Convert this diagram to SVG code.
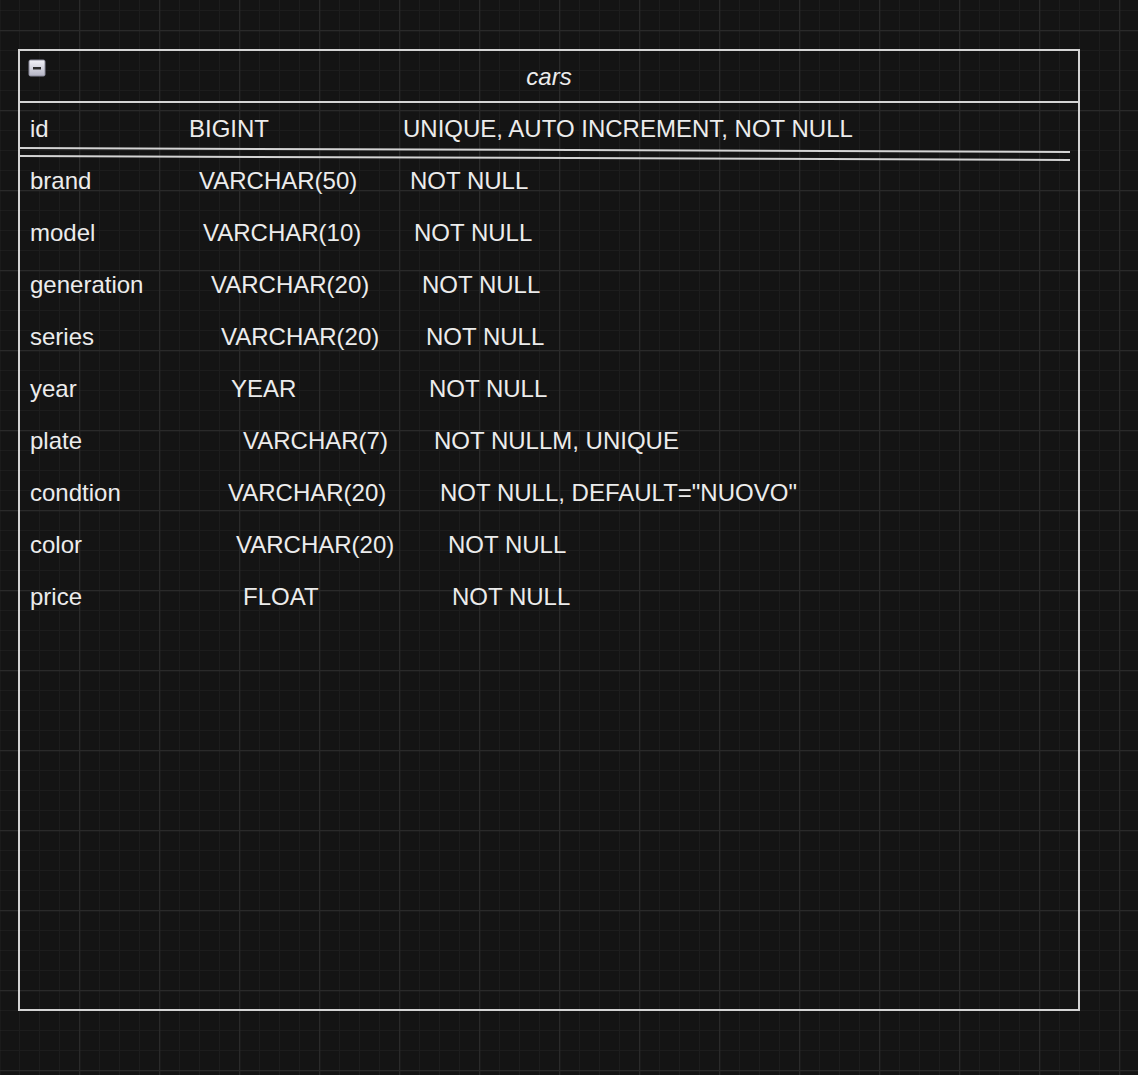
<svg xmlns="http://www.w3.org/2000/svg" width="1138" height="1075" viewBox="0 0 1138 1075">
  <defs>
    <pattern id="minor" x="-1" y="30" width="20" height="20" patternUnits="userSpaceOnUse">
      <path d="M0 0.5H20M0.5 0V20" fill="none" stroke="#1d1d1d" stroke-width="1"/>
    </pattern>
    <pattern id="major" x="-1" y="30" width="80" height="80" patternUnits="userSpaceOnUse">
      <path d="M0 0.5H80M0.5 0V80" fill="none" stroke="#2a2a2a" stroke-width="1.5"/>
    </pattern>
    <linearGradient id="btn" x1="0" y1="0" x2="0" y2="1">
      <stop offset="0" stop-color="#f2f2f8"/>
      <stop offset="1" stop-color="#b4b4c4"/>
    </linearGradient>
    <style>
      .t { font-family: "Liberation Sans", Arial, Helvetica, sans-serif; font-size: 24px; fill: #ececec; }
      .title { font-style: italic; text-anchor: middle; }
      .ln { stroke: #d4d4d4; stroke-width: 2; fill: none; }
    </style>
  </defs>
  <rect width="1138" height="1075" fill="#141414"/>
  <rect width="1138" height="1075" fill="url(#minor)"/>
  <rect width="1138" height="1075" fill="url(#major)"/>

  <g id="cars">
    <rect class="ln" x="19" y="50" width="1060" height="960"/>
    <line class="ln" x1="19" y1="102" x2="1079" y2="102"/>
    <g id="collapse">
      <rect x="29" y="60" width="16" height="16" rx="1.5" fill="url(#btn)" stroke="#8a8a9a" stroke-width="1"/>
      <rect x="33" y="67" width="8" height="2.5" fill="#2a2a2a"/>
    </g>
    <text class="t title" x="549" y="85">cars</text>

    <g id="row-id">
      <text class="t" x="30" y="137">id</text>
      <text class="t" x="189" y="137">BIGINT</text>
      <text class="t" x="403" y="137">UNIQUE, AUTO INCREMENT, NOT NULL</text>
    </g>
    <line class="ln" x1="20" y1="148" x2="1070" y2="152"/>
    <line class="ln" x1="20" y1="156" x2="1070" y2="160"/>

    <g id="row-brand">
      <text class="t" x="30" y="189">brand</text>
      <text class="t" x="199" y="189">VARCHAR(50)</text>
      <text class="t" x="410" y="189">NOT NULL</text>
    </g>
    <g id="row-model">
      <text class="t" x="30" y="241">model</text>
      <text class="t" x="203" y="241">VARCHAR(10)</text>
      <text class="t" x="414" y="241">NOT NULL</text>
    </g>
    <g id="row-generation">
      <text class="t" x="30" y="293">generation</text>
      <text class="t" x="211" y="293">VARCHAR(20)</text>
      <text class="t" x="422" y="293">NOT NULL</text>
    </g>
    <g id="row-series">
      <text class="t" x="30" y="345">series</text>
      <text class="t" x="221" y="345">VARCHAR(20)</text>
      <text class="t" x="426" y="345">NOT NULL</text>
    </g>
    <g id="row-year">
      <text class="t" x="30" y="397">year</text>
      <text class="t" x="231" y="397">YEAR</text>
      <text class="t" x="429" y="397">NOT NULL</text>
    </g>
    <g id="row-plate">
      <text class="t" x="30" y="449">plate</text>
      <text class="t" x="243" y="449">VARCHAR(7)</text>
      <text class="t" x="434" y="449">NOT NULLM, UNIQUE</text>
    </g>
    <g id="row-condtion">
      <text class="t" x="30" y="501">condtion</text>
      <text class="t" x="228" y="501">VARCHAR(20)</text>
      <text class="t" x="440" y="501">NOT NULL, DEFAULT="NUOVO"</text>
    </g>
    <g id="row-color">
      <text class="t" x="30" y="553">color</text>
      <text class="t" x="236" y="553">VARCHAR(20)</text>
      <text class="t" x="448" y="553">NOT NULL</text>
    </g>
    <g id="row-price">
      <text class="t" x="30" y="605">price</text>
      <text class="t" x="243" y="605">FLOAT</text>
      <text class="t" x="452" y="605">NOT NULL</text>
    </g>
  </g>
  <g id="connectors"/>
</svg>
